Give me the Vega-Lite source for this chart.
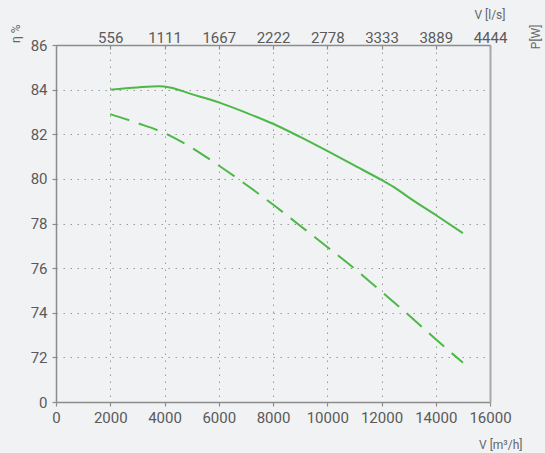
{
  "$schema": "https://vega.github.io/schema/vega-lite/v6.json",
  "width": 434,
  "height": 357,
  "autosize": {"type": "none"},
  "padding": {"left": 56, "top": 45, "right": 55, "bottom": 51},
  "background": "#f1f2f4",
  "config": {
    "view": {"stroke": null},
    "font": "Roboto",
    "axis": {
      "labelFont": "Roboto",
      "labelFontSize": 15,
      "labelColor": "#5a5a5a",
      "titleFont": "Roboto",
      "titleFontSize": 12,
      "titleFontWeight": "normal",
      "titleColor": "#666666",
      "domainColor": "#8c8c8c",
      "domainWidth": 1.5,
      "tickColor": "#8c8c8c",
      "tickWidth": 1.2,
      "tickSize": 4,
      "gridColor": "#9a9a9a",
      "gridDash": [1.5, 5.5],
      "gridWidth": 1
    }
  },
  "data": {
    "values": [
      {"flow": 2000, "eta": 84.0, "series": "solid"},
      {"flow": 3000, "eta": 84.1, "series": "solid"},
      {"flow": 3800, "eta": 84.15, "series": "solid"},
      {"flow": 4200, "eta": 84.1, "series": "solid"},
      {"flow": 5000, "eta": 83.8, "series": "solid"},
      {"flow": 6000, "eta": 83.43, "series": "solid"},
      {"flow": 7000, "eta": 82.97, "series": "solid"},
      {"flow": 8000, "eta": 82.47, "series": "solid"},
      {"flow": 9000, "eta": 81.88, "series": "solid"},
      {"flow": 10000, "eta": 81.25, "series": "solid"},
      {"flow": 11000, "eta": 80.6, "series": "solid"},
      {"flow": 12000, "eta": 79.95, "series": "solid"},
      {"flow": 12500, "eta": 79.6, "series": "solid"},
      {"flow": 13000, "eta": 79.17, "series": "solid"},
      {"flow": 14000, "eta": 78.38, "series": "solid"},
      {"flow": 15000, "eta": 77.57, "series": "solid"},
      {"flow": 2000, "eta": 82.9, "series": "dashed"},
      {"flow": 3000, "eta": 82.5, "series": "dashed"},
      {"flow": 4000, "eta": 82.05, "series": "dashed"},
      {"flow": 5000, "eta": 81.4, "series": "dashed"},
      {"flow": 6000, "eta": 80.6, "series": "dashed"},
      {"flow": 7000, "eta": 79.75, "series": "dashed"},
      {"flow": 8000, "eta": 78.85, "series": "dashed"},
      {"flow": 9000, "eta": 77.9, "series": "dashed"},
      {"flow": 10000, "eta": 76.95, "series": "dashed"},
      {"flow": 11000, "eta": 75.98, "series": "dashed"},
      {"flow": 12000, "eta": 74.95, "series": "dashed"},
      {"flow": 13000, "eta": 73.9, "series": "dashed"},
      {"flow": 14000, "eta": 72.81, "series": "dashed"},
      {"flow": 15000, "eta": 71.76, "series": "dashed"}
    ]
  },
  "resolve": {"axis": {"x": "independent", "y": "independent"}},
  "layer": [
    {
      "transform": [{"filter": "datum.series == 'solid'"}],
      "mark": {"type": "line", "color": "#4cb847", "strokeWidth": 2, "interpolate": "monotone"},
      "encoding": {
        "x": {
          "field": "flow", "type": "quantitative",
          "scale": {"domain": [0, 16000], "nice": false},
          "axis": {
            "orient": "bottom",
            "values": [0, 2000, 4000, 6000, 8000, 10000, 12000, 14000, 16000],
            "format": "d",
            "labelPadding": 4,
            "labelFlush": false,
            "grid": true,
            "title": "V [m³/h]",
            "titleX": 466,
            "titleY": 42,
            "titleAlign": "right",
            "titleBaseline": "middle"
          }
        },
        "y": {
          "field": "eta", "type": "quantitative",
          "scale": {"domain": [70, 86], "nice": false, "zero": false},
          "axis": {
            "orient": "left",
            "values": [70, 72, 74, 76, 78, 80, 82, 84, 86],
            "labelExpr": "datum.value == 70 ? '0' : datum.label",
            "labelPadding": 5,
            "labelFlush": false,
            "grid": true,
            "title": "η %",
            "titleAngle": 270,
            "titleX": -41,
            "titleY": -21,
            "titleAlign": "right",
            "titleBaseline": "middle"
          }
        }
      }
    },
    {
      "transform": [{"filter": "datum.series == 'dashed'"}],
      "mark": {"type": "line", "color": "#4cb847", "strokeWidth": 2, "strokeDash": [20, 10], "interpolate": "monotone"},
      "encoding": {
        "x": {
          "field": "flow", "type": "quantitative",
          "scale": {"domain": [0, 16000], "nice": false},
          "axis": {
            "orient": "top",
            "values": [2000, 4000, 6000, 8000, 10000, 12000, 14000, 16000],
            "labelExpr": "toString(round(datum.value / 3.6))",
            "labelPadding": 4,
            "labelFlush": false,
            "tickSize": -4,
            "grid": false,
            "title": "V [l/s]",
            "titleX": 449,
            "titleY": -31,
            "titleAlign": "right",
            "titleBaseline": "middle"
          }
        },
        "y": {
          "field": "eta", "type": "quantitative",
          "scale": {"domain": [70, 86], "nice": false, "zero": false},
          "axis": {
            "orient": "right",
            "labels": false,
            "ticks": false,
            "grid": false,
            "domainColor": "#a8a8a8",
            "domainWidth": 2,
            "title": "P[W]",
            "titleAngle": 270,
            "titleX": 45,
            "titleY": -21,
            "titleAlign": "right",
            "titleBaseline": "middle"
          }
        }
      }
    }
  ]
}
